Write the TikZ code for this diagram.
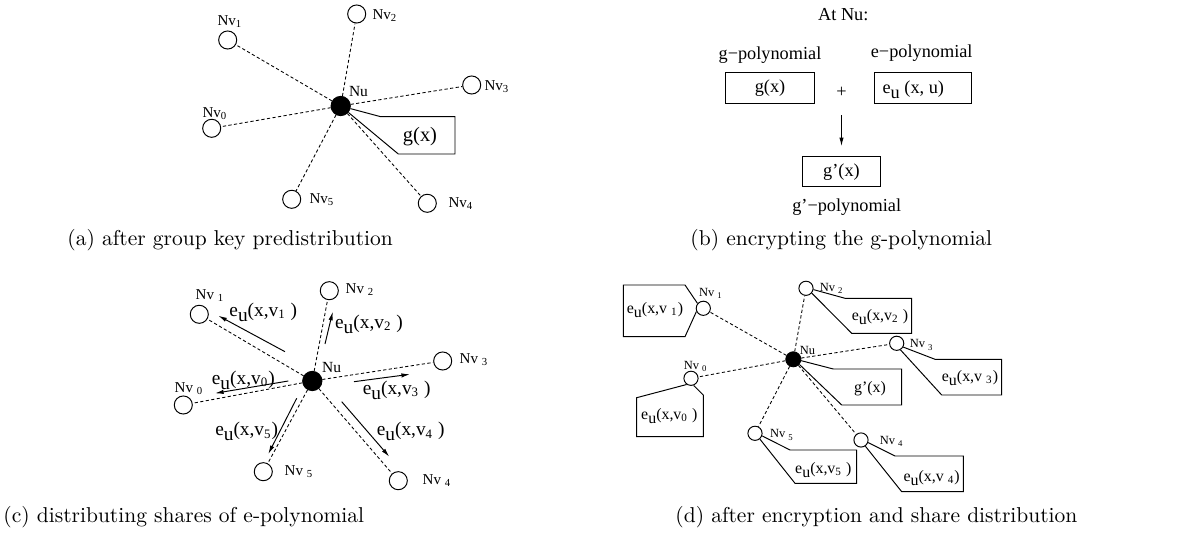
\documentclass[tikz,border=0pt]{standalone}
\usepackage{fontspec}
\newfontfamily\tms{Liberation Serif}
\usetikzlibrary{arrows.meta}
\newcommand{\eu}{e\raisebox{-0.55ex}{u}}
\tikzset{
  nv/.style={circle, draw, line width=0.45pt, minimum size=8.4pt, inner sep=0pt},
  nvd/.style={nv, minimum size=6.6pt},
  nu/.style={circle, draw, fill=black, minimum size=9pt, inner sep=0pt},
  nud/.style={nu, minimum size=7pt},
  link/.style={line width=0.4pt, dash pattern=on 1.5pt off 1.1pt},
  wire/.style={line width=0.45pt},
  share/.style={line width=0.45pt, -{Latex[length=4pt,width=2pt]}},
  tag/.style={font=\tms\fontsize{7}{8}\selectfont, inner sep=0pt},
  tagd/.style={font=\tms\fontsize{5.8}{6}\selectfont, inner sep=0pt},
  txt/.style={font=\tms\fontsize{8.5}{10}\selectfont, inner sep=0pt},
  shr/.style={font=\tms\fontsize{9}{10}\selectfont, inner sep=0pt},
  shrd/.style={font=\tms\fontsize{7.4}{8}\selectfont, inner sep=0pt},
  pbox/.style={draw, line width=0.45pt, font=\tms\fontsize{8.5}{10}\selectfont, inner sep=0pt},
  capt/.style={font=\fontsize{10}{12}\selectfont, inner sep=0pt, anchor=west},
}

\begin{document}
\begin{tikzpicture}[x=0.465pt,y=-0.465pt]
  \useasboundingbox (0,0) rectangle (1186,538);
  %%%%% (a) %%%%%
  \node[nu] (au) at (340.7,106) {};
  \node[nv] (a0) at (211.7,128.3) {};
  \node[nv] (a1) at (227.7,40) {};
  \node[nv] (a2) at (356.7,14) {};
  \node[nv] (a3) at (471.7,85) {};
  \node[nv] (a4) at (427.3,203.3) {};
  \node[nv] (a5) at (291.7,199.3) {};
  \foreach \i in {0,...,5} \draw[link] (au) -- (a\i);

  \node[tag] (la0) at (215,114) {Nv\textsubscript{0}};
  \node[tag] (la1) at (230,22) {Nv\textsubscript{1}};
  \node[tag] (la2) at (385,16) {Nv\textsubscript{2}};
  \node[tag] (la3) at (497,87) {Nv\textsubscript{3}};
  \node[tag] (la4) at (461,204) {Nv\textsubscript{4}};
  \node[tag] (la5) at (322,200) {Nv\textsubscript{5}};
  \node[tag, font=\tms\fontsize{7.2}{8}\selectfont] (lau) at (358.5,91.5) {Nu};

  \draw[wire] (au.-15) -- (380.7,116.7) -- (455,116.7) -- (455,154) -- (398.3,154) -- (au.-40);
  \node[txt, font=\tms\fontsize{9.5}{10}\selectfont] (ag) at (420,137) {g(x)};

  %%%%% (b) %%%%%
  \node[txt] (atnu) at (843.3,15) {At Nu:};
  \node[txt] (gpoly) at (770,55) {g−polynomial};
  \node[txt] (epoly) at (921.7,53.3) {e−polynomial};
  \node[pbox, minimum width=41.2pt, minimum height=14.2pt] (gbox) at (770,88) {g(x)};
  \node[txt] (plus) at (841.5,92.7) {+};
  \node[pbox, minimum width=45pt, minimum height=14.2pt] (ebox) at (923.3,88) {};
  \node[txt] (etxt) at (913.3,90) {\eu\ (x, u)};
  \node[pbox, minimum width=36.7pt, minimum height=14pt] (gpbox) at (841.5,171.7) {g’(x)};
  \node[txt] (gppoly) at (846.7,206.7) {g’−polynomial};
  \draw[wire, -{Latex[length=4pt,width=2pt]}, shorten <=8pt, shorten >=4.6pt]
    (plus.south) -- (plus.south |- gpbox.north);

  %%%%% (c) %%%%%
  \node[nu] (cu) at (312.3,381) {};
  \node[nv] (c0) at (183.3,405) {};
  \node[nv] (c1) at (199.3,314.3) {};
  \node[nv] (c2) at (329.3,290.7) {};
  \node[nv] (c3) at (442.7,361) {};
  \node[nv] (c4) at (398.3,480.7) {};
  \node[nv] (c5) at (263.3,471.7) {};
  \foreach \i in {0,...,5} \draw[link] (cu) -- (c\i);

  \node[tag] (lc0) at (189,389) {Nv \textsubscript{0}};
  \node[tag] (lc1) at (210,296) {Nv \textsubscript{1}};
  \node[tag] (lc2) at (360,290) {Nv \textsubscript{2}};
  \node[tag] (lc3) at (474,360) {Nv \textsubscript{3}};
  \node[tag] (lc4) at (437,481) {Nv \textsubscript{4}};
  \node[tag] (lc5) at (299,472) {Nv \textsubscript{5}};
  \node[tag, font=\tms\fontsize{7.2}{8}\selectfont] (lcu) at (331.7,367.7) {Nu};

  \draw[share] (288.3,381) -- (215,393.3);
  \draw[share] (285,351.7) -- (218.3,315.7);
  \draw[share] (325,344) -- (332.7,311.7);
  \draw[share] (354,381.7) -- (410,374.3);
  \draw[share] (341.7,401.7) -- (389.3,456.7);
  \draw[share] (296.7,398.3) -- (268.3,454);

  \node[shr] (sc0) at (243.3,380) {\eu(x,v\textsubscript{0})};
  \node[shr] (sc1) at (263.3,312) {\eu(x,v\textsubscript{1} )};
  \node[shr] (sc2) at (369,324) {\eu(x,v\textsubscript{2} )};
  \node[shr] (sc3) at (396.7,390) {\eu(x,v\textsubscript{3} )};
  \node[shr] (sc4) at (410.7,431.7) {\eu(x,v\textsubscript{4} )};
  \node[shr] (sc5) at (246.7,431.7) {\eu(x,v\textsubscript{5})};

  %%%%% (d) %%%%%
  \node[nud] (du) at (793.3,359.3) {};
  \node[nvd] (d0) at (691,378.3) {};
  \node[nvd] (d1) at (703.3,308.3) {};
  \node[nvd] (d2) at (806,288.3) {};
  \node[nvd] (d3) at (896.7,343.3) {};
  \node[nvd] (d4) at (861,440) {};
  \node[nvd] (d5) at (755,433.3) {};
  \foreach \i in {0,...,5} \draw[link] (du) -- (d\i);

  \node[tagd] (ld0) at (695.7,366.7) {Nv \textsubscript{0}};
  \node[tagd] (ld1) at (711,293) {Nv \textsubscript{1}};
  \node[tagd] (ld2) at (831.7,288) {Nv \textsubscript{2}};
  \node[tagd] (ld3) at (921.7,345) {Nv \textsubscript{3}};
  \node[tagd] (ld4) at (891.7,441.7) {Nv \textsubscript{4}};
  \node[tagd] (ld5) at (782,435) {Nv \textsubscript{5}};
  \node[tagd] (ldu) at (807.5,350) {Nu};

  \draw[wire] (d1.140) -- (685,285) -- (623.3,285) -- (623.3,336.7) -- (685,336.7) -- (d1.205);
  \draw[wire] (d0.235) -- (636.7,397.7) -- (636.7,436.7) -- (703.3,436.7) -- (703.3,395) -- (d0.290);
  \draw[wire] (d2.-10) -- (845,298.3) -- (911.7,298.3) -- (911.7,333.3) -- (851.7,333.3) -- (d2.-40);
  \draw[wire] (d3.-30) -- (935,359.3) -- (1001.7,359.3) -- (1001.7,395) -- (941.7,395) -- (d3.-60);
  \draw[wire] (d4.-20) -- (895,456) -- (963.3,456) -- (963.3,491.7) -- (901.7,491.7) -- (d4.-55);
  \draw[wire] (d5.-20) -- (790,450) -- (856.7,450) -- (856.7,483.3) -- (795,483.3) -- (d5.-50);
  \draw[wire] (du.-10) -- (833.3,369) -- (901.7,369) -- (901.7,405) -- (841.7,405) -- (du.-40);

  \node[shrd] (sd0) at (669.3,415.7) {\eu(x,v\textsubscript{0} )};
  \node[shrd] (sd1) at (655,310) {\eu(x,v \textsubscript{1})};
  \node[shrd] (sd2) at (880,316.7) {\eu(x,v\textsubscript{2} )};
  \node[shrd] (sd3) at (970,378.3) {\eu(x,v \textsubscript{3})};
  \node[shrd] (sd4) at (931.7,478.3) {\eu(x,v \textsubscript{4})};
  \node[shrd] (sd5) at (823.3,470) {\eu(x,v\textsubscript{5} )};
  \node[shrd] (sdg) at (870,388.3) {g’(x)};

  %%%%% captions %%%%%
  \node[capt] (capa) at (67,240) {(a) after group key predistribution};
  \node[capt] (capb) at (690,240) {(b) encrypting the g-polynomial};
  \node[capt] (capc) at (3,517) {(c) distributing shares of e-polynomial};
  \node[capt] (capd) at (675,517) {(d) after encryption and share distribution};
\end{tikzpicture}
\end{document}
